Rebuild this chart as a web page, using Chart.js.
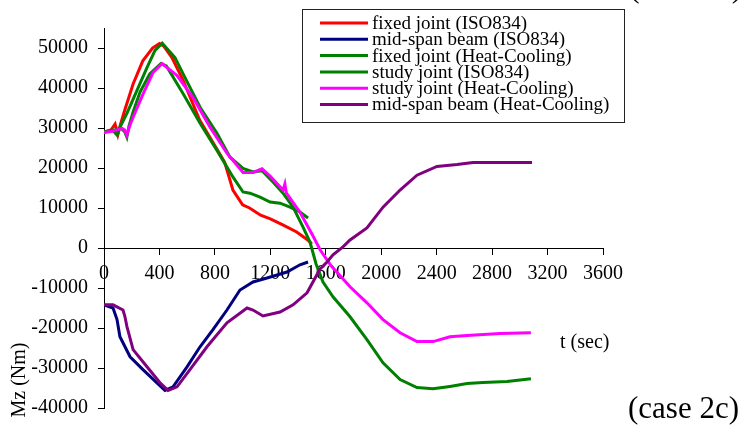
<!DOCTYPE html>
<html>
<head>
<meta charset="utf-8">
<script src="https://cdn.jsdelivr.net/npm/chart.js@4.4.1/dist/chart.umd.min.js"></script>
<style>
  body { margin: 0; background: #fff; }
  #wrap { width: 740px; height: 425px; }
</style>
</head>
<body>
<div id="wrap"><canvas id="grafico" width="740" height="425"></canvas></div>
<script>
const serif = '"Liberation Serif", "Times New Roman", serif';

// eixo X: tempo (s), eixo Y: Mz (Nm)
const xTicks = [0, 400, 800, 1200, 1600, 2000, 2400, 2800, 3200, 3600];
const yTicks = [-40000, -30000, -20000, -10000, 0, 10000, 20000, 30000, 40000, 50000];

const labels = [
    'fixed joint (ISO834)',
    'mid-span beam (ISO834)',
    'fixed joint (Heat-Cooling)',
    'study joint (ISO834)',
    'study joint (Heat-Cooling)',
    'mid-span beam (Heat-Cooling)'
];
const colors = ['#ff0000', '#000080', '#008000', '#008000', '#ff00ff', '#800080'];

// fixed joint (ISO834)
const fixedIsoT = [0, 50, 80, 100, 120, 150, 210, 280, 350, 400, 430, 490, 570, 690, 810, 870, 930, 1000, 1050, 1130, 1200, 1290, 1390, 1470, 1500];
const fixedIsoMz = [29000, 29500, 31000, 28300, 31000, 34500, 41000, 46800, 50000, 51100, 50500, 47600, 42000, 32000, 25000, 21500, 14500, 10800, 10000, 8200, 7300, 5800, 4000, 2000, 1000];

// mid-span beam (ISO834)
const midIsoT = [0, 65, 94, 115, 188, 281, 382, 440, 498, 599, 693, 786, 887, 981, 1075, 1176, 1320, 1414, 1472];
const midIsoMz = [-14200, -15000, -17900, -22200, -27200, -30400, -33700, -35600, -34700, -29700, -24700, -20400, -15500, -10500, -8500, -7500, -6000, -4200, -3500];

// fixed joint (Heat-Cooling)
const fixedHcT = [0, 60, 95, 115, 166, 238, 310, 368, 420, 512, 570, 693, 815, 909, 1003, 1075, 1140, 1219, 1292, 1364, 1436, 1486, 1530, 1580, 1652, 1775, 1897, 2013, 2136, 2258, 2374, 2496, 2619, 2734, 2908, 3080];
const fixedHcMz = [29000, 29500, 28200, 30200, 33700, 39400, 45100, 49400, 51200, 47600, 43600, 35200, 28700, 22700, 19900, 19000, 19300, 16500, 13700, 10200, 5200, 1500, -4000, -8500, -12200, -17200, -22900, -28700, -32900, -34900, -35200, -34600, -33900, -33600, -33400, -32700];

// study joint (ISO834)
const studyIsoT = [0, 60, 120, 150, 165, 180, 210, 260, 330, 411, 450, 570, 693, 815, 931, 1003, 1053, 1126, 1198, 1270, 1342, 1414, 1472];
const studyIsoMz = [29000, 29300, 30000, 29000, 27700, 30500, 34000, 39000, 43500, 46100, 45500, 38600, 31200, 24400, 17700, 14000, 13700, 12700, 11500, 11200, 10200, 9000, 7500];

// study joint (Heat-Cooling)
const studyHcT = [0, 60, 130, 150, 165, 185, 210, 283, 354, 418, 527, 642, 765, 887, 1003, 1075, 1140, 1198, 1292, 1305, 1315, 1414, 1508, 1560, 1640, 1775, 1897, 2013, 2136, 2258, 2374, 2496, 2619, 2857, 3080];
const studyHcMz = [28900, 29200, 29900, 29500, 28200, 30500, 32700, 38600, 43900, 46100, 43100, 37600, 30200, 23700, 18900, 18900, 19800, 18000, 14500, 16000, 13800, 8900, 3000, -500, -4500, -9700, -13700, -17900, -21200, -23400, -23400, -22200, -21900, -21400, -21200];

// mid-span beam (Heat-Cooling)
const midHcT = [0, 65, 137, 150, 166, 210, 310, 404, 462, 527, 620, 743, 887, 1032, 1075, 1147, 1270, 1364, 1465, 1558, 1609, 1652, 1724, 1775, 1897, 2013, 2136, 2258, 2402, 2547, 2662, 3088];
const midHcMz = [-14200, -14200, -15500, -17000, -19700, -25400, -29700, -33700, -35600, -34700, -30400, -24700, -18700, -15000, -15500, -17000, -16000, -14200, -11200, -5300, -3500, -1700, 300, 2000, 5000, 10200, 14500, 18200, 20400, 20900, 21400, 21400];

const series = [
    [fixedIsoT, fixedIsoMz],
    [midIsoT, midIsoMz],
    [fixedHcT, fixedHcMz],
    [studyIsoT, studyIsoMz],
    [studyHcT, studyHcMz],
    [midHcT, midHcMz]
];
// ordem de desenho (menor = por cima)
const drawOrder = [5, 4, 3, 2, 1, 0];

const datasets = series.map((s, i) => ({
    label: labels[i],
    data: s[0].map((t, k) => ({ x: t, y: s[1][k] })),
    borderColor: colors[i],
    backgroundColor: colors[i],
    borderWidth: 3,
    pointRadius: 0,
    fill: false,
    tension: 0,
    order: drawOrder[i]
}));

// legenda com moldura + textos soltos
const extras = {
    id: 'extras',
    afterDraw(chart) {
        const ctx = chart.ctx;
        ctx.save();
        ctx.fillStyle = '#fff';
        ctx.fillRect(302, 9, 322, 113);
        ctx.strokeStyle = '#222';
        ctx.lineWidth = 1;
        ctx.strokeRect(302.5, 9.5, 322, 113);
        ctx.font = '19px ' + serif;
        ctx.textBaseline = 'middle';
        ctx.textAlign = 'left';
        chart.data.datasets.forEach((ds, i) => {
            const y = 23 + i * 16.3;
            ctx.strokeStyle = ds.borderColor;
            ctx.lineWidth = 3;
            ctx.beginPath();
            ctx.moveTo(320, y);
            ctx.lineTo(368, y);
            ctx.stroke();
            ctx.fillStyle = '#000';
            ctx.fillText(ds.label, 372, y + 1);
        });

        ctx.fillStyle = '#000';
        ctx.font = '20px ' + serif;
        ctx.fillText('t (sec)', 560, 343);

        ctx.font = '31px ' + serif;
        ctx.textBaseline = 'alphabetic';
        ctx.textAlign = 'right';
        ctx.fillText('(case 2c)', 739, 418);
        ctx.fillText('(case 2b)', 742, -3);

        ctx.translate(20, 380);
        ctx.rotate(-Math.PI / 2);
        ctx.textAlign = 'center';
        ctx.textBaseline = 'middle';
        ctx.font = '20px ' + serif;
        ctx.fillText('Mz (Nm)', 0, 0);
        ctx.restore();
    }
};

new Chart(document.getElementById('grafico'), {
    type: 'line',
    data: { datasets: datasets },
    options: {
        responsive: false,
        animation: false,
        devicePixelRatio: 1,
        layout: { padding: { top: 28, bottom: 17, left: 0, right: 137 } },
        plugins: { legend: { display: false }, tooltip: { enabled: false } },
        scales: {
            x: {
                type: 'linear',
                min: xTicks[0],
                max: xTicks[xTicks.length - 1],
                position: { y: 0 },
                afterBuildTicks: s => { s.ticks = xTicks.map(v => ({ value: v })); },
                afterFit: s => { s.paddingTop = 0; s.paddingBottom = 0; },
                grid: { drawOnChartArea: false, drawTicks: true, tickLength: 6, color: '#000' },
                border: { color: '#000', width: 1 },
                ticks: { color: '#000', padding: 8, maxRotation: 0, autoSkip: false, font: { family: serif, size: 20 }, callback: v => String(v) }
            },
            y: {
                type: 'linear',
                min: -40000,
                max: 55000,
                afterBuildTicks: s => { s.ticks = yTicks.map(v => ({ value: v })); },
                afterFit: s => { s.width = 104; s.paddingTop = 0; s.paddingBottom = 0; },
                grid: { drawOnChartArea: false, drawTicks: true, tickLength: 6, color: '#000' },
                border: { color: '#000', width: 1 },
                ticks: { color: '#000', padding: 10, autoSkip: false, font: { family: serif, size: 20 }, callback: v => String(v) }
            }
        }
    },
    plugins: [extras]
});
</script>
</body>
</html>
